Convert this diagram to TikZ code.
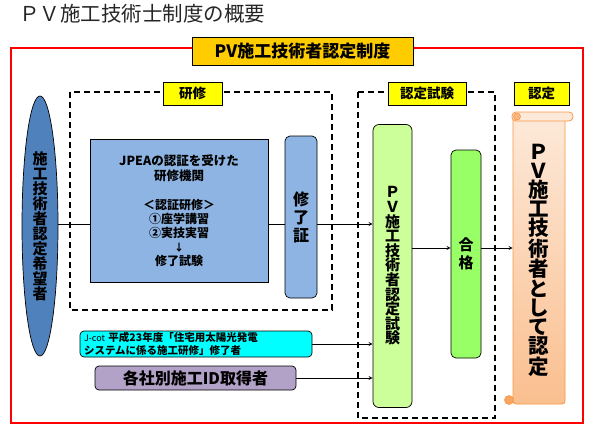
\documentclass[tikz,border=0pt]{standalone}
\usepackage{fontspec}
\setmainfont{Noto Sans CJK JP}
\usetikzlibrary{arrows,positioning,shapes.geometric}
\definecolor{hdrgold}{HTML}{FFCC00}
\definecolor{lblyel}{HTML}{FFFF00}
\definecolor{hopeblue}{HTML}{4F81BD}
\definecolor{orgblue}{HTML}{8DB4E2}
\definecolor{testgreen}{HTML}{CCFF99}
\definecolor{passgreen}{HTML}{99FF66}
\definecolor{jcotcyan}{HTML}{00FFFF}
\definecolor{idpurple}{HTML}{B3A2C7}
\definecolor{scrolltop}{HTML}{FDE9D9}
\definecolor{scrollbot}{HTML}{FABF8F}
\definecolor{scrollline}{HTML}{F79646}

\begin{document}
\begin{tikzpicture}[x=1pt, y=-1pt,
  lbl/.style={draw, fill=lblyel, line width=0.9pt, minimum height=23pt,
              inner sep=0pt, font=\bfseries\fontsize{13.5}{14}\selectfont},
  colbox/.style={draw, rectangle, rounded corners=5pt, line width=0.7pt,
                 inner sep=0pt, align=center},
  vtext/.style={align=center, font=\bfseries\fontsize{15}{14.6}\selectfont},
  frame/.style={dashed, line width=1.3pt, dash pattern=on 6pt off 4pt},
  ->, >=stealth
]
\useasboundingbox (0,0) rectangle (595,429);

% title
\node[anchor=west, inner sep=0pt, text=black!85,
      font=\fontsize{20.5}{22}\selectfont] (title) at (19,14) {ＰＶ施工技術士制度の概要};

% outer frame
\draw[-, red, line width=2.4pt] (11,48) rectangle (583,423);
\node[draw, fill=hdrgold, line width=0.9pt, minimum width=221pt, minimum height=28pt,
      inner sep=0pt, font=\bfseries\fontsize{17}{18}\selectfont] (hdr) at (302.5,51) {PV施工技術者認定制度};

% dashed groups
\draw[-, frame] (70,92) rectangle (332,310);
\draw[-, frame] (358,92) rectangle (495,418);
\node[lbl, minimum width=59pt] (lblken) at (192.5,93.5) {研修};
\node[lbl, minimum width=78pt] (lbltest) at (427,93.5) {認定試験};
\node[lbl, minimum width=55pt] (lblnin) at (541.5,93.5) {認定};

% applicant
\node[draw, ellipse, fill=hopeblue, line width=0.7pt, minimum width=36pt,
      minimum height=260pt, inner sep=0pt, vtext, font=\bfseries\fontsize{15}{15}\selectfont]
      (hope) at (40,226) {施\\工\\技\\術\\者\\認\\定\\希\\望\\者};

% training
\node[draw, rectangle, fill=orgblue, line width=0.7pt, minimum width=178pt,
      minimum height=143pt, inner sep=0pt, align=center,
      font=\bfseries\fontsize{12.5}{15}\selectfont] (jpea) at (179,210.5)
      {JPEAの認証を受けた\\研修機関\\[14pt]
       {\fontsize{12}{14}\selectfont ＜認証研修＞}\\[-1pt]
       {\fontsize{12}{14}\selectfont ①座学講習}\\[-1pt]
       {\fontsize{12}{14}\selectfont ②実技実習}\\[-1pt]
       {\fontsize{10}{14}\selectfont ↓}\\[-1pt]
       {\fontsize{12}{14}\selectfont 修了試験}};
\node[colbox, fill=orgblue, minimum width=32pt, minimum height=162pt,
      font=\bfseries\fontsize{16}{18}\selectfont] (cert) at (301,217) {修\\了\\証};

% exam
\node[colbox, fill=testgreen, rounded corners=6pt, minimum width=39pt,
      minimum height=283pt, vtext] (test) at (392.5,266)
      {Ｐ\\Ｖ\\施\\工\\技\\術\\者\\認\\定\\試\\験};
\node[colbox, fill=passgreen, minimum width=30pt, minimum height=208pt,
      font=\bfseries\fontsize{15}{18}\selectfont] (pass) at (466,254) {合\\格};

% certification scroll
\node[draw=scrollline, line width=0.8pt, rounded corners=3pt, top color=scrolltop,
      bottom color=scrollbot, minimum width=52pt, minimum height=288pt, inner sep=0pt,
      align=center, font=\bfseries\fontsize{20.5}{19.2}\selectfont] (scroll) at (539,260)
      {Ｐ\\Ｖ\\施\\工\\技\\術\\者\\と\\し\\て\\認\\定};
\draw[-, draw=scrollline, fill=scrolltop, line width=0.8pt, rounded corners=4pt]
      (512,112) rectangle (573,121);
\draw[-, draw=scrollline, fill=scrollbot!80!scrollline, line width=0.6pt] (517,116.5) circle (3.5);
\draw[-, draw=scrollline, fill=scrollline!85, line width=0.6pt] (509,400) circle (4.5);

% other routes
\node[colbox, fill=jcotcyan, rounded corners=4pt, minimum width=232pt, minimum height=26pt,
      text width=224pt, align=left, font=\bfseries\fontsize{10.5}{13}\selectfont]
      (jcot) at (196,344)
      {{\mdseries\fontsize{9}{13}\selectfont J-cot} 平成23年度「住宅用太陽光発電\\システムに係る施工研修」修了者};
\node[colbox, fill=idpurple, rounded corners=4pt, minimum width=201pt, minimum height=24pt,
      font=\bfseries\fontsize{16}{18}\selectfont] (idhold) at (195.5,378) {各社別施工ID取得者};

% connectors
\coordinate (row) at (0,224);
\draw[-, line width=0.8pt] (hope.east |- row) -- (jpea.west |- row);
\draw[-, line width=0.8pt] (jpea.east |- row) -- (cert.west |- row);
\draw[->, line width=0.8pt] (cert.east |- row) -- (test.west |- row);
\coordinate (prow) at (0,248);
\draw[->, line width=0.8pt] (test.east |- prow) -- (pass.west |- prow);
\draw[->, line width=0.8pt] (pass.east |- prow) -- (scroll.west |- prow);
\draw[->, line width=0.8pt] (jcot.east) -- (test.west |- jcot.east);
\draw[->, line width=0.8pt] (idhold.east) -- (test.west |- idhold.east);
\end{tikzpicture}
\end{document}
